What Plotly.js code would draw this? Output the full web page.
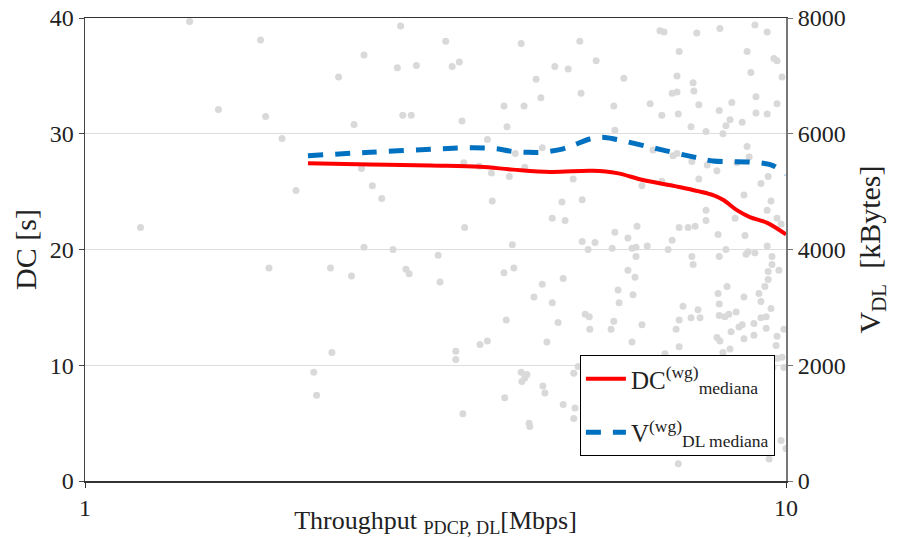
<!DOCTYPE html>
<html>
<head>
<meta charset="utf-8">
<script src="https://cdn.plot.ly/plotly-3.0.1.min.js"></script>
<style>html,body{margin:0;padding:0;background:#fff;}#chart{width:903px;height:538px;}</style>
</head>
<body>
<div id="chart"></div>
<script>
// Scatter of individual measurements (throughput [Mbps], DC [s])
const scatterX = [1.20,1.41,1.55,1.78,1.81,1.83,1.91,2.00,2.12,2.14,2.24,2.25,2.30,2.40,2.42,2.48,2.50,2.50,2.57,2.65,2.75,2.79,2.82,2.84,2.87,2.90,2.92,2.97,3.19,3.21,
3.27,3.34,3.42,3.45,3.47,3.48,3.38,3.38,3.46,3.65,3.66,3.75,3.75,3.80,3.81,3.96,3.96,3.97,3.99,4.00,4.03,4.07,4.09,4.11,4.19,4.19,4.20,4.24,4.27,4.23,4.24,4.30,4.31,4.37,4.40,4.47,4.49,4.49,4.50,4.53,4.56,4.64,4.64,4.68,4.73,4.79,4.81,4.81,4.84,4.89,4.97,4.98,4.98,5.00,5.05,5.08,5.10,5.12,5.12,5.17,5.22,5.24,5.25,5.34,5.36,
5.63,5.65,5.70,5.68,5.68,5.70,5.76,5.78,5.87,5.95,5.95,6.03,6.03,6.05,6.09,6.11,6.11,6.13,6.23,6.23,6.34,6.40,6.46,6.61,6.70,6.65,6.65,6.72,6.79,6.88,6.88,6.90,6.97,6.99,6.99,6.99,7.02,7.02,7.04,7.04,7.04,7.04,7.13,7.25,7.32,7.32,7.34,7.34,7.37,7.37,7.39,7.42,7.46,7.49,7.51,7.51,7.54,7.69,7.69,7.69,7.72,
7.97,7.97,8.00,8.00,8.03,8.03,8.03,8.03,8.05,8.05,8.13,8.13,8.18,8.21,8.21,8.24,8.29,8.32,8.32,8.35,8.37,8.46,8.49,8.51,8.57,8.66,8.66,8.71,8.71,8.71,8.74,8.77,8.80,8.80,8.83,8.86,8.91,9.00,9.00,9.03,9.03,9.06,9.06,9.15,9.21,9.21,9.21,9.33,9.37,9.37,9.40,9.40,9.40,9.40,9.40,9.43,9.43,9.43,9.46,9.52,9.52,9.55,9.55,9.58,9.61,9.68,9.71,9.71,9.71,9.71,9.71,9.77,9.84,9.84,9.87,9.87,9.93,9.93,10.0];
const scatterY = [21.9,39.7,32.1,38.1,31.5,18.4,29.6,25.1,9.4,7.4,18.4,11.1,34.9,17.7,30.8,27.0,36.8,20.2,25.5,24.4,20.0,35.7,39.3,31.6,18.3,17.9,31.6,35.9,19.5,17.2,
38.0,35.8,36.2,31.1,27.5,21.9,11.2,10.5,5.8,27.2,11.8,12.1,29.5,26.6,24.2,32.4,18.0,7.2,13.9,30.6,26.3,20.4,18.4,28.3,37.8,9.4,8.6,8.9,9.2,32.4,27.1,5.0,4.7,15.9,34.7,33.1,28.8,17.0,8.2,7.6,12.0,22.7,15.4,35.8,13.7,24.1,17.5,6.6,22.5,35.6,26.1,9.3,5.4,6.3,9.9,38.0,33.5,24.3,20.7,14.4,20.0,14.2,13.1,20.6,36.3,
13.1,20.1,30.3,32.4,13.8,21.5,16.5,15.4,34.8,21.0,18.2,20.1,12.0,16.1,17.6,20.2,19.4,22.0,25.5,13.5,20.3,32.6,28.6,38.9,38.8,31.6,25.9,11.0,20.0,33.5,20.8,28.1,13.1,35.0,33.6,28.3,31.7,1.5,37.1,21.9,13.9,11.6,15.1,21.9,30.6,14.1,27.6,19.4,34.4,18.7,33.7,22.0,38.7,14.8,32.5,26.1,14.1,30.2,23.4,22.5,27.3,
26.8,12.4,21.3,16.2,32.0,19.4,15.3,14.3,39.1,12.1,30.0,11.1,14.2,30.7,20.0,16.8,14.4,31.2,11.4,12.9,32.7,22.7,14.6,27.5,13.3,31.0,13.5,24.7,15.9,12.3,21.2,19.6,37.1,28.9,19.8,28.0,35.3,13.6,12.6,39.4,19.7,33.2,31.8,16.2,25.7,15.5,14.1,16.8,14.2,13.2,38.8,31.7,23.4,20.3,5.7,26.3,18.1,17.4,1.9,24.2,14.9,19.4,18.7,9.8,36.5,11.7,36.3,32.6,22.7,12.5,10.6,18.2,22.2,3.5,34.9,10.7,13.1,9.8,2.8];

// Median curves
const dcX = [2.08,2.55,3.11,3.66,4.08,4.61,5.30,5.74,6.25,7.04,7.87,8.13,8.51,8.88,9.40,10.0];
const dcY = [27.45,27.35,27.25,27.15,26.9,26.7,26.8,26.6,26.0,25.4,24.7,24.3,23.4,22.8,22.3,21.3];
const vX = [2.08,2.55,3.21,3.58,3.87,4.04,4.27,4.49,4.81,4.97,5.25,5.47,5.74,6.34,6.83,7.37,7.87,8.88,9.27,9.58,10.0];
const vY = [5620,5680,5740,5760,5740,5700,5680,5680,5740,5800,5910,5940,5900,5780,5690,5600,5530,5510,5490,5450,5300];

const leftTicks = [0,10,20,30,40];
const rightTicks = [0,2000,4000,6000,8000];
const xTicks = [1,10];

const serif = "Liberation Serif";

const traces = [
  {x: scatterX, y: scatterY, type: 'scatter', mode: 'markers', showlegend: false,
   marker: {size: 7, color: '#d9d9d9'}, hoverinfo: 'skip'},
  {x: dcX, y: dcY, type: 'scatter', mode: 'lines', name: 'DC<sup>(wg)</sup><sub>mediana</sub>', legendgroup: 'a',
   line: {color: '#ff0000', width: 4, shape: 'spline', smoothing: 1}},
  {x: vX, y: vY, type: 'scatter', mode: 'lines', yaxis: 'y2', name: 'V<sup>(wg)</sup><sub>DL mediana</sub>', legendgroup: 'b',
   line: {color: '#0070c0', width: 5, dash: '15px,12px', shape: 'spline', smoothing: 1}}
];

const layout = {
  width: 903, height: 538,
  margin: {l: 85, r: 117, t: 18, b: 57},
  paper_bgcolor: '#fff', plot_bgcolor: '#fff',
  font: {family: serif, size: 22, color: '#222'},
  showlegend: true,
  legend: {x: 0.706, y: 0.272, xanchor: 'left', yanchor: 'top',
           bgcolor: '#fff', bordercolor: '#000', borderwidth: 1,
           font: {family: serif, size: 25, color: '#222'}, tracegroupgap: 18, itemwidth: 40},
  xaxis: {type: 'log', range: [0, 1], tickvals: xTicks, ticktext: xTicks.map(String),
          showgrid: false, zeroline: false, showline: true, linecolor: '#333', linewidth: 1.5,
          mirror: true, ticks: 'outside', ticklen: 5, tickcolor: '#333',
          tickfont: {family: serif, size: 24, color: '#222'},
          title: {text: 'Throughput <sub>PDCP, DL</sub>[Mbps]', font: {family: serif, size: 26, color: '#222'}, standoff: 8}},
  yaxis: {range: [0, 40], tickvals: leftTicks, showgrid: true, gridcolor: '#dddddd', gridwidth: 1,
          zeroline: false, showline: true, linecolor: '#444', linewidth: 1.5,
          ticks: 'outside', ticklen: 5, tickcolor: '#444',
          tickfont: {family: serif, size: 24, color: '#222'},
          title: {text: 'DC [s]', font: {family: serif, size: 30, color: '#222'}, standoff: 4}},
  yaxis2: {range: [0, 8000], tickvals: rightTicks, overlaying: 'y', side: 'right',
           showgrid: false, zeroline: false, showline: true, linecolor: '#777', linewidth: 2,
           ticks: 'outside', ticklen: 5, tickcolor: '#777',
           tickfont: {family: serif, size: 24, color: '#222'},
           title: {text: 'V<sub>DL</sub>  [kBytes]', font: {family: serif, size: 30, color: '#222'}, standoff: 14}}
};

Plotly.newPlot('chart', traces, layout, {staticPlot: true, displayModeBar: false});
</script>
</body>
</html>
